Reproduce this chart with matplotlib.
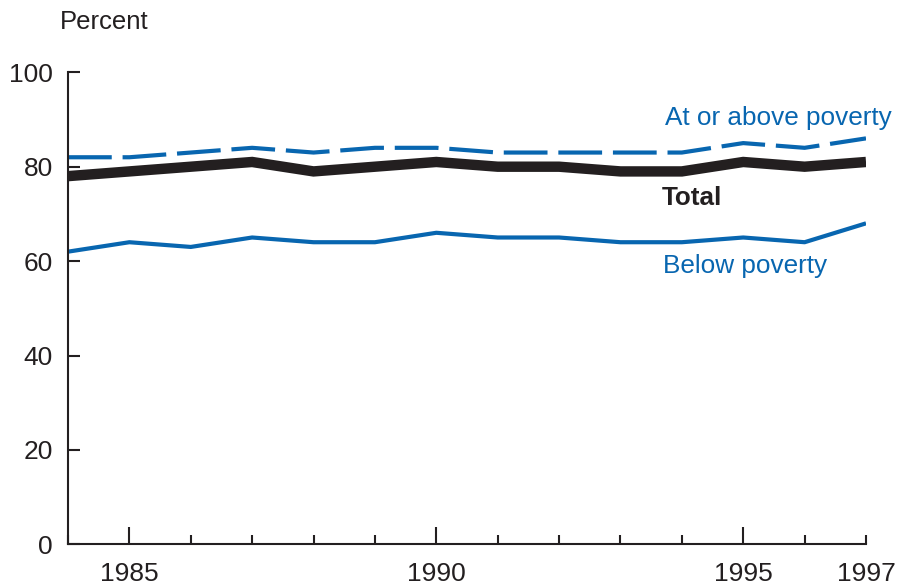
import matplotlib.pyplot as plt

plt.rcParams['font.family'] = ['Liberation Sans', 'DejaVu Sans']

years = list(range(1984, 1998))
above_poverty = [82, 82, 83, 84, 83, 84, 84, 83, 83, 83, 83, 85, 84, 86]
total = [78, 79, 80, 81, 79, 80, 81, 80, 80, 79, 79, 81, 80, 81]
below_poverty = [62, 64, 63, 65, 64, 64, 66, 65, 65, 64, 64, 65, 64, 68]

x_major = [1985, 1990, 1995, 1997]
y_ticks = [0, 20, 40, 60, 80, 100]

blue = '#0866b0'
dark = '#231f20'

fig = plt.figure(figsize=(9.02, 5.87), dpi=100)
ax = fig.add_axes([68 / 902, 1 - 544.3 / 587, (866 - 68) / 902, (544.3 - 72.3) / 587])

line_above, = ax.plot(years, above_poverty, color=blue, lw=3, solid_capstyle='butt',
                      dash_capstyle='butt')
line_above.set_dashes([10.5, 2.6])
ax.plot(years, total, color=dark, lw=7.5, solid_capstyle='butt', solid_joinstyle='miter')
ax.plot(years, below_poverty, color=blue, lw=3, solid_capstyle='butt')

ax.set_xlim(1984, 1997)
ax.set_ylim(0, 100)

for side in ['top', 'right']:
    ax.spines[side].set_visible(False)
for side in ['left', 'bottom']:
    ax.spines[side].set_linewidth(1.5)
    ax.spines[side].set_color(dark)

ax.set_yticks(y_ticks)
ax.set_xticks(x_major)
ax.set_xticks(years, minor=True)
ax.tick_params(axis='y', direction='in', length=8.5, width=1.5, color=dark,
               labelsize=19, pad=11, labelcolor=dark)
ax.tick_params(axis='x', which='major', direction='in', length=12.5, width=1.5,
               color=dark, labelsize=19, pad=13, labelcolor=dark)
ax.tick_params(axis='x', which='minor', direction='in', length=6.5, width=1.5,
               color=dark)
# 1997 gets a short tick like the yearly ones
ax.xaxis.get_major_ticks()[3].tick1line.set_markersize(6.5)

fig.text(60 / 902, 1 - 22 / 587, 'Percent', fontsize=18.5, va='center', ha='left',
         color=dark)
ax.text(665 / 902, 1 - 118 / 587, 'At or above poverty', transform=fig.transFigure,
        color=blue, fontsize=18.8, va='center', ha='left')
ax.text(662 / 902, 1 - 198 / 587, 'Total', transform=fig.transFigure,
        color=dark, fontsize=18.8, fontweight='bold', va='center', ha='left')
ax.text(663 / 902, 1 - 266 / 587, 'Below poverty', transform=fig.transFigure,
        color=blue, fontsize=18.8, va='center', ha='left')

fig.savefig('out.png', dpi=100, facecolor='white')
